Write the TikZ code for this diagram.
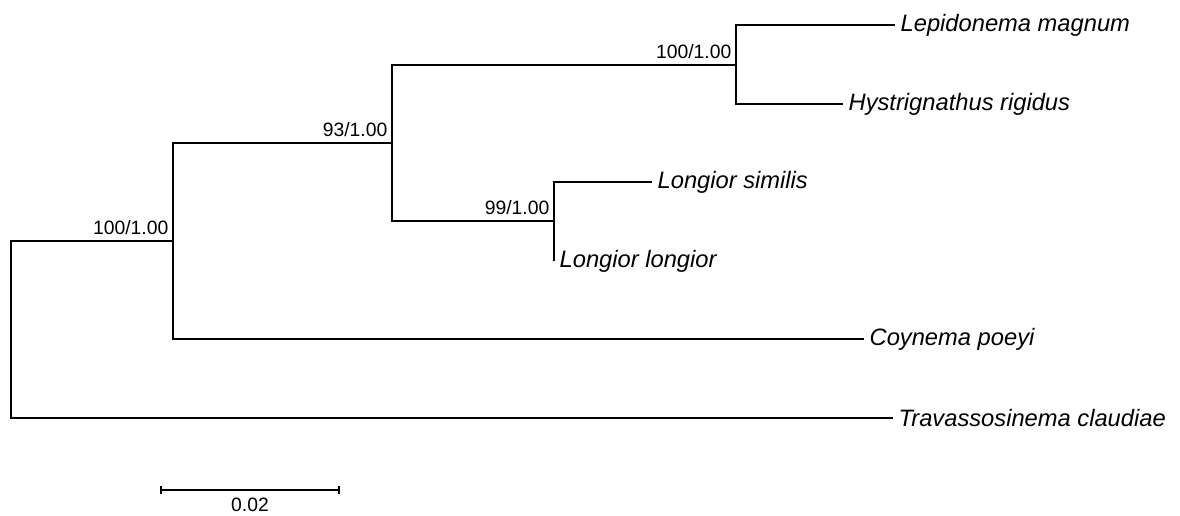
\documentclass[tikz,border=0pt]{standalone}
\usepackage{fontspec}
\setmainfont{Liberation Sans}
\usetikzlibrary{arrows.meta}
\tikzset{
  branch/.style={line width=1pt},
  taxon/.style={anchor=west, inner xsep=3pt, inner ysep=0pt, font=\fontsize{13.5}{16}\selectfont\itshape},
  support/.style={anchor=south east, inner xsep=2.5pt, inner ysep=3.5pt, font=\fontsize{11}{12}\selectfont}
}
\begin{document}
\begin{tikzpicture}[x=0.02cm, y=-0.02cm]
        \useasboundingbox (0,0) rectangle (1180,516);
        % internal nodes
        \coordinate (root) at (11,300);
        \coordinate (nA) at (173,241);
        \coordinate (nB) at (392,143);
        \coordinate (nC) at (736,65);
        \coordinate (nD) at (554,221);
        % taxa
        \node[taxon] (lep) at (895,25) {Lepidonema magnum};
        \node[taxon] (hys) at (843,104) {Hystrignathus rigidus};
        \node[taxon] (lsim) at (652,182) {Longior similis};
        \node[taxon] (llon) at (554,261) {Longior longior};
        \node[taxon] (coy) at (864,339) {Coynema poeyi};
        \node[taxon] (tra) at (893,418) {Travassosinema claudiae};
        % branches
        \draw[branch] (root) |- (nA);
        \draw[branch] (root) |- (tra.west);
        \draw[branch] (nA) |- (nB);
        \draw[branch] (nA) |- (coy.west);
        \draw[branch] (nB) |- (nC);
        \draw[branch] (nB) |- (nD);
        \draw[branch] (nC) |- (lep.west);
        \draw[branch] (nC) |- (hys.west);
        \draw[branch] (nD) |- (lsim.west);
        \draw[branch] (nD) |- (llon.west);
        % support values
        \node[support] (sA) at (nA) {100/1.00};
        \node[support] (sB) at (nB) {93/1.00};
        \node[support] (sC) at (nC) {100/1.00};
        \node[support] (sD) at (nD) {99/1.00};
        % scale bar
        \coordinate (sb0) at (160,490);
        \coordinate (sb1) at (340,490);
        \draw[branch, {Bar[width=5pt]}-{Bar[width=5pt]}] (sb0) -- (sb1)
            node[midway, below=1pt, font=\fontsize{11}{12}\selectfont] (sbl) {0.02};
    \end{tikzpicture}
\end{document}
